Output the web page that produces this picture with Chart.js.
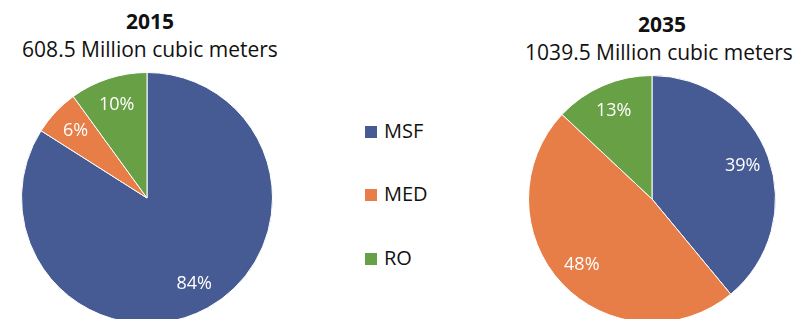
<!DOCTYPE html>
<html>
<head>
<meta charset="utf-8">
<script src="https://cdn.jsdelivr.net/npm/chart.js@4"></script>
<style>
  html, body { margin: 0; padding: 0; background: #fff; }
  body { width: 798px; height: 319px; overflow: hidden; position: relative; font-family: 'Open Sans', sans-serif; color: #111; }
  .ttl { position: absolute; width: 300px; text-align: center; font-size: 21px; line-height: 20px; white-space: nowrap; }
  .ttl.b { font-weight: bold; }
  canvas { position: absolute; }
  .leg { position: absolute; left: 365px; font-size: 20px; line-height: 20px; }
  .leg span.sw { display: inline-block; width: 12px; height: 12px; margin-right: 7px; }
</style>
</head>
<body>
<div class="ttl b" id="t1" style="left:0px;top:11px;"></div>
<div class="ttl" id="s1" style="left:0px;top:39px;"></div>
<div class="ttl b" id="t2" style="left:512px;top:14px;"></div>
<div class="ttl" id="s2" style="left:509px;top:42px;"></div>
<canvas id="pie2015" width="252" height="252" style="left:21px;top:72px;"></canvas>
<canvas id="pie2035" width="248" height="248" style="left:528px;top:75px;"></canvas>
<div id="legend"></div>
<script>
// Desalination capacity by technology
const categories = ['MSF', 'MED', 'RO'];
const colors = ['#465A93', '#E77D47', '#67A045'];
const years = ['2015', '2035'];
const totals = ['608.5 Million cubic meters', '1039.5 Million cubic meters'];
const share2015 = [84, 6, 10];
const share2035 = [39, 48, 13];

document.getElementById('t1').textContent = years[0];
document.getElementById('s1').textContent = totals[0];
document.getElementById('t2').textContent = years[1];
document.getElementById('s2').textContent = totals[1];

// simple legend between the two pies
const legendTops = [121, 184, 248];
const legendEl = document.getElementById('legend');
categories.forEach((c, i) => {
  const d = document.createElement('div');
  d.className = 'leg';
  d.style.top = legendTops[i] + 'px';
  d.innerHTML = '<span class="sw" style="background:' + colors[i] + '"></span>' + c;
  legendEl.appendChild(d);
});

// percentage labels inside each slice
const pctLabels = {
  id: 'pctLabels',
  afterDatasetsDraw(chart) {
    const ctx = chart.ctx;
    const meta = chart.getDatasetMeta(0);
    ctx.save();
    ctx.fillStyle = '#fff';
    ctx.font = "18px 'Open Sans', sans-serif";
    ctx.textAlign = 'center';
    ctx.textBaseline = 'middle';
    meta.data.forEach((arc, i) => {
      const p = arc.getProps(['x', 'y', 'startAngle', 'endAngle', 'outerRadius'], true);
      const mid = (p.startAngle + p.endAngle) / 2;
      const r = p.outerRadius * 0.78;
      ctx.fillText(chart.data.datasets[0].data[i] + '%', p.x + Math.cos(mid) * r, p.y + Math.sin(mid) * r);
    });
    ctx.restore();
  }
};

function makePie(id, values) {
  return new Chart(document.getElementById(id), {
    type: 'pie',
    data: {
      labels: categories,
      datasets: [{
        data: values,
        backgroundColor: colors,
        borderColor: '#fff',
        borderWidth: 1,
      }]
    },
    options: {
      responsive: false,
      animation: false,
      devicePixelRatio: 1,
      layout: { padding: 0 },
      plugins: {
        legend: { display: false },
        tooltip: { enabled: false },
      }
    },
    plugins: [pctLabels]
  });
}

makePie('pie2015', share2015);
makePie('pie2035', share2035);
</script>
</body>
</html>
